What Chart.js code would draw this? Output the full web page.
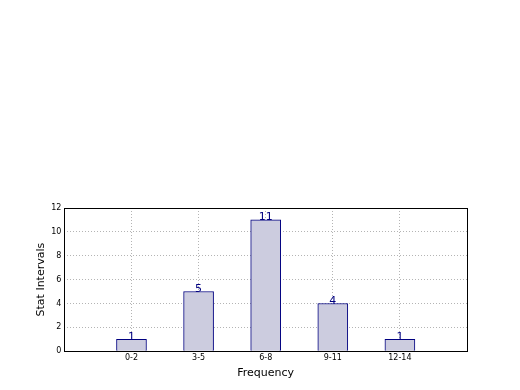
<!DOCTYPE html>
<html>
<head>
<meta charset="utf-8">
<script src="https://cdn.jsdelivr.net/npm/chart.js@4"></script>
<style>
  html, body { margin: 0; padding: 0; background: #fff; }
  #wrap { width: 520px; height: 390px; }
</style>
</head>
<body>
<div id="wrap"><canvas id="chart" width="520" height="390"></canvas></div>
<script>
const categories = ['0-2', '3-5', '6-8', '9-11', '12-14'];
const counts = [1, 5, 11, 4, 1];
const yTicks = [0, 2, 4, 6, 8, 10, 12];

// bar labels above each bar
const valueLabels = {
    id: 'valueLabels',
    afterDraw(chart) {
        const ctx = chart.ctx;
        const meta = chart.getDatasetMeta(0);
        ctx.save();
        ctx.fillStyle = '#000080';
        ctx.font = '11px "DejaVu Sans"';
        ctx.textAlign = 'center';
        ctx.textBaseline = 'bottom';
        meta.data.forEach((bar, i) => {
            ctx.fillText(String(counts[i]), bar.x, bar.y + 3);
        });
        ctx.restore();
    }
};

// black frame round the plot
const frame = {
    id: 'frame',
    afterDraw(chart) {
        const a = chart.chartArea;
        const ctx = chart.ctx;
        ctx.save();
        ctx.strokeStyle = '#000';
        ctx.lineWidth = 1;
        ctx.strokeRect(Math.round(a.left) + 0.5, Math.round(a.top) + 0.5,
            Math.round(a.right - a.left), Math.round(a.bottom - a.top));
        ctx.restore();
    }
};

new Chart(document.getElementById('chart'), {
    type: 'bar',
    data: {
        datasets: [{
            data: counts.map((v, i) => ({ x: i, y: v })),
            backgroundColor: '#ccccdf',
            borderColor: '#000080',
            borderWidth: 1,
            barThickness: 30
        }]
    },
    options: {
        responsive: false,
        animation: false,
        layout: { padding: { top: 208, right: 53, left: 35, bottom: 6 } },
        plugins: { legend: { display: false }, tooltip: { enabled: false } },
        scales: {
            x: {
                type: 'linear',
                min: -1, max: 5,
                offset: false,
                z: 1,
                ticks: {
                    stepSize: 1,
                    autoSkip: false,
                    maxRotation: 0,
                    color: '#000',
                    font: { size: 8, family: 'DejaVu Sans' },
                    padding: 2,
                    callback: v => categories[v] || ''
                },
                grid: {
                    offset: false,
                    color: ctx => (ctx.tick && ctx.tick.value >= 0 && ctx.tick.value <= 4) ? '#b4b4b4' : 'rgba(0,0,0,0)',
                    drawTicks: false
                },
                border: { display: false, dash: [1, 2] },
                title: { display: true, text: 'Frequency', color: '#000', font: { size: 11, family: 'DejaVu Sans' }, padding: { top: 2 } }
            },
            y: {
                min: 0, max: 12,
                z: 1,
                afterBuildTicks: axis => { axis.ticks = yTicks.map(v => ({ value: v })); },
                ticks: {
                    color: '#000',
                    font: { size: 8, family: 'DejaVu Sans' },
                    padding: 3
                },
                grid: {
                    color: ctx => (ctx.tick && ctx.tick.value > 0 && ctx.tick.value < 12) ? '#b4b4b4' : 'rgba(0,0,0,0)',
                    drawTicks: false
                },
                border: { display: false, dash: [1, 2] },
                title: { display: true, text: 'Stat Intervals', color: '#000', font: { size: 11, family: 'DejaVu Sans' }, padding: { top: 0, bottom: 0 } }
            }
        }
    },
    plugins: [valueLabels, frame]
});
</script>
</body>
</html>
